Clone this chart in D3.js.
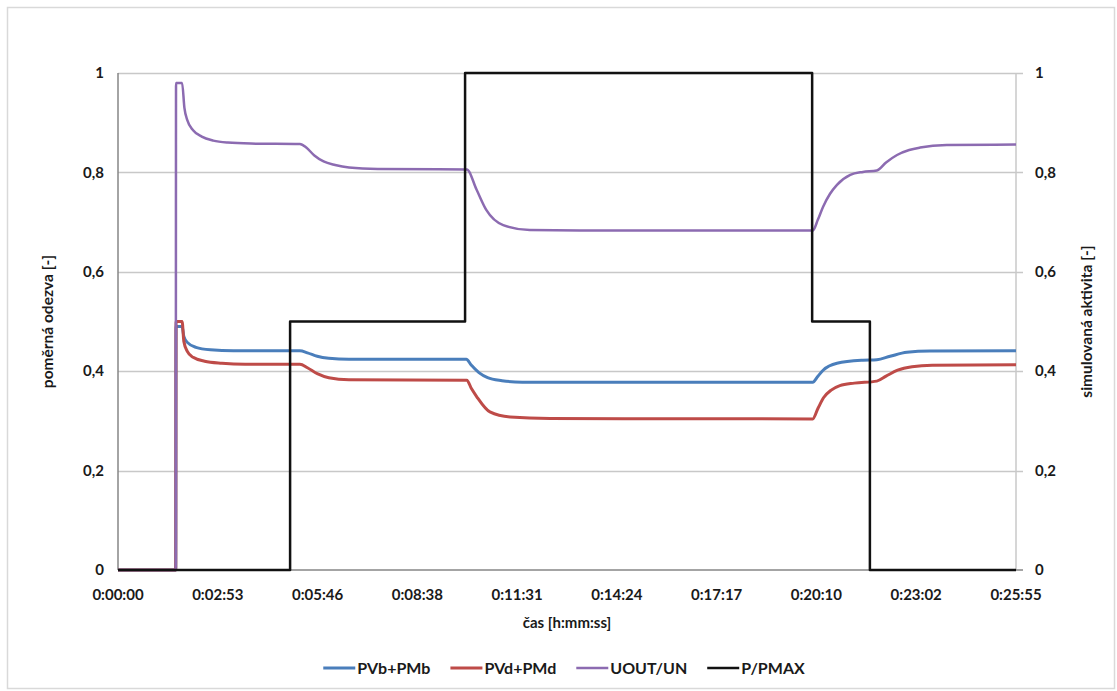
<!DOCTYPE html>
<html>
<head>
<meta charset="utf-8">
<script src="https://cdn.jsdelivr.net/npm/d3@7"></script>
<style>
  body { margin: 0; background: #fff; }
  text { font-family: Lato, "Open Sans", sans-serif; font-weight: bold; fill: #1a1a1a; }
</style>
</head>
<body>
<svg id="chart"></svg>
<script>
// time in seconds
var timeTicks = [0, 172.8, 345.6, 518.3, 691.1, 863.9, 1036.7, 1209.4, 1382.2, 1555];
var timeLabels = ["0:00:00", "0:02:53", "0:05:46", "0:08:38", "0:11:31", "0:14:24", "0:17:17", "0:20:10", "0:23:02", "0:25:55"];
var yTicks = [0, 0.2, 0.4, 0.6, 0.8, 1];
var yLabels = ["0", "0,2", "0,4", "0,6", "0,8", "1"];

var pvb = [[0,0],[100,0],[100.5,0.49],[111,0.49],[114,0.47],[120,0.458],[135,0.448],[160,0.443],[200,0.441],
  [315,0.441],[328,0.437],[345,0.43],[365,0.426],[400,0.424],[603,0.424],[612,0.412],[625,0.397],[640,0.387],
  [665,0.381],[700,0.378],[1203,0.378],[1212,0.39],[1221,0.402],[1245,0.416],[1290,0.422],[1314,0.423],
  [1337,0.43],[1366,0.438],[1406,0.4405],[1555,0.441]];
var pvd = [[0,0],[100,0],[100.5,0.5],[111,0.5],[114,0.46],[120,0.44],[130,0.428],[150,0.42],[180,0.416],[220,0.414],
  [315,0.414],[328,0.407],[345,0.395],[365,0.387],[400,0.383],[604,0.382],[612,0.365],[621,0.349],[644,0.318],
  [679,0.308],[748,0.305],[1203,0.304],[1212,0.325],[1222,0.347],[1235,0.362],[1250,0.371],[1275,0.376],
  [1314,0.38],[1330,0.39],[1350,0.402],[1375,0.409],[1410,0.412],[1555,0.413]];
var uout = [[0,0],[100,0],[100.5,0.98],[111,0.98],[115,0.93],[120,0.905],[130,0.885],[145,0.872],[165,0.864],
  [190,0.86],[230,0.858],[315,0.857],[326,0.85],[340,0.834],[356,0.822],[376,0.815],[400,0.81],[450,0.807],
  [604,0.806],[621,0.765],[638,0.724],[667,0.694],[713,0.684],[800,0.683],[1203,0.683],[1212,0.705],[1221,0.731],
  [1233,0.757],[1245,0.775],[1268,0.795],[1290,0.801],[1314,0.804],[1330,0.82],[1349,0.835],[1370,0.845],
  [1389,0.85],[1435,0.855],[1555,0.856]];
var pmax = [[0,0],[298,0.5],[601,1],[1202,0.5],[1302,0],[1555,0]];

var series = [
  {name: "PVb+PMb", values: pvb, color: "#4a7ebb", width: 3, curve: d3.curveMonotoneX},
  {name: "PVd+PMd", values: pvd, color: "#be4b48", width: 3, curve: d3.curveMonotoneX},
  {name: "UOUT/UN", values: uout, color: "#8c6bb1", width: 2.5, curve: d3.curveMonotoneX},
  {name: "P/PMAX", values: pmax, color: "#111", width: 2.5, curve: d3.curveStepAfter}
];

var width = 1117, height = 691,
    margin = {top: 73, right: 101, bottom: 121, left: 118};

var svg = d3.select("#chart").attr("width", width).attr("height", height);

// outer chart border
svg.append("rect")
    .attr("x", 7.5).attr("y", 7.5)
    .attr("width", 1107).attr("height", 681)
    .attr("fill", "#fff").attr("stroke", "#d9d9d9").attr("stroke-width", 1.5);

var x = d3.scaleLinear().domain([0, 1555]).range([margin.left, width - margin.right]),
    y = d3.scaleLinear().domain([0, 1]).range([height - margin.bottom, margin.top]),
    y2 = d3.scaleLinear().domain([0, 1]).range([height - margin.bottom, margin.top]);

// gridlines (extend a bit past right axis like the secondary tick marks)
svg.append("g").selectAll("line").data(yTicks.slice(1)).enter()
  .append("line")
    .attr("x1", x(0)).attr("x2", x(1555) + 7)
    .attr("y1", function(d) { return Math.round(y(d)) + 0.5; })
    .attr("y2", function(d) { return Math.round(y(d)) + 0.5; })
    .attr("stroke", "#c8c8c8").attr("stroke-width", 1.5);

// axes lines
svg.append("line")
    .attr("x1", x(0)).attr("x2", x(0)).attr("y1", y(1)).attr("y2", y(0))
    .attr("stroke", "#868686").attr("stroke-width", 1.5);
svg.append("line")
    .attr("x1", x(1555)).attr("x2", x(1555)).attr("y1", y2(1)).attr("y2", y2(0))
    .attr("stroke", "#c8c8c8").attr("stroke-width", 1.5);
svg.append("line")
    .attr("x1", x(0)).attr("x2", x(1555) + 7).attr("y1", y(0)).attr("y2", y(0))
    .attr("stroke", "#868686").attr("stroke-width", 1.5);

// tick labels
svg.append("g").selectAll("text").data(yTicks).enter()
  .append("text")
    .attr("x", x(0) - 14)
    .attr("y", function(d) { return y(d); })
    .attr("dy", "0.35em")
    .attr("text-anchor", "end")
    .style("font-size", "15px")
    .text(function(d, i) { return yLabels[i]; });

svg.append("g").selectAll("text").data(yTicks).enter()
  .append("text")
    .attr("x", x(1555) + 19)
    .attr("y", function(d) { return y2(d); })
    .attr("dy", "0.35em")
    .attr("text-anchor", "start")
    .style("font-size", "15px")
    .text(function(d, i) { return yLabels[i]; });

svg.append("g").selectAll("text").data(timeTicks).enter()
  .append("text")
    .attr("x", function(d) { return x(d); })
    .attr("y", y(0) + 25)
    .attr("dy", "0.35em")
    .attr("text-anchor", "middle")
    .style("font-size", "15px")
    .text(function(d, i) { return timeLabels[i]; });

// axis titles
svg.append("text")
    .attr("x", (x(0) + x(1555)) / 2).attr("y", 623).attr("dy", "0.35em")
    .attr("text-anchor", "middle").style("font-size", "15px")
    .text("čas [h:mm:ss]");
svg.append("text")
    .attr("transform", "translate(48," + (y(0.5)) + ") rotate(-90)")
    .attr("dy", "0.35em").attr("text-anchor", "middle").style("font-size", "15.5px")
    .text("poměrná odezva [-]");
svg.append("text")
    .attr("transform", "translate(1087," + (y2(0.5)) + ") rotate(-90)")
    .attr("dy", "0.35em").attr("text-anchor", "middle").style("font-size", "15.5px")
    .text("simulovaná aktivita [-]");

// series
var lines = svg.append("g").attr("class", "lines");
series.forEach(function(s) {
  var scaleY = s.name === "P/PMAX" ? y2 : y;
  var line = d3.line()
      .curve(s.curve)
      .x(function(d) { return x(d[0]); })
      .y(function(d) { return scaleY(d[1]); });
  lines.append("path")
      .datum(s.values)
      .attr("d", line)
      .attr("fill", "none")
      .attr("stroke", s.color)
      .attr("stroke-width", s.width)
      .attr("stroke-linejoin", "round");
});

// legend
var legend = svg.append("g").attr("class", "legend");
var lx = 0;
series.forEach(function(s) {
  var item = legend.append("g").attr("transform", "translate(" + lx + ",0)");
  item.append("line")
      .attr("x1", 0).attr("x2", 32).attr("y1", 0).attr("y2", 0)
      .attr("stroke", s.color).attr("stroke-width", s.width);
  var t = item.append("text")
      .attr("x", 34).attr("dy", "0.35em")
      .style("font-size", "16px")
      .text(s.name);
  lx += 34 + t.node().getComputedTextLength() + 20;
});
lx -= 20;
legend.attr("transform", "translate(" + (564 - lx / 2) + ",668)");
</script>
</body>
</html>
